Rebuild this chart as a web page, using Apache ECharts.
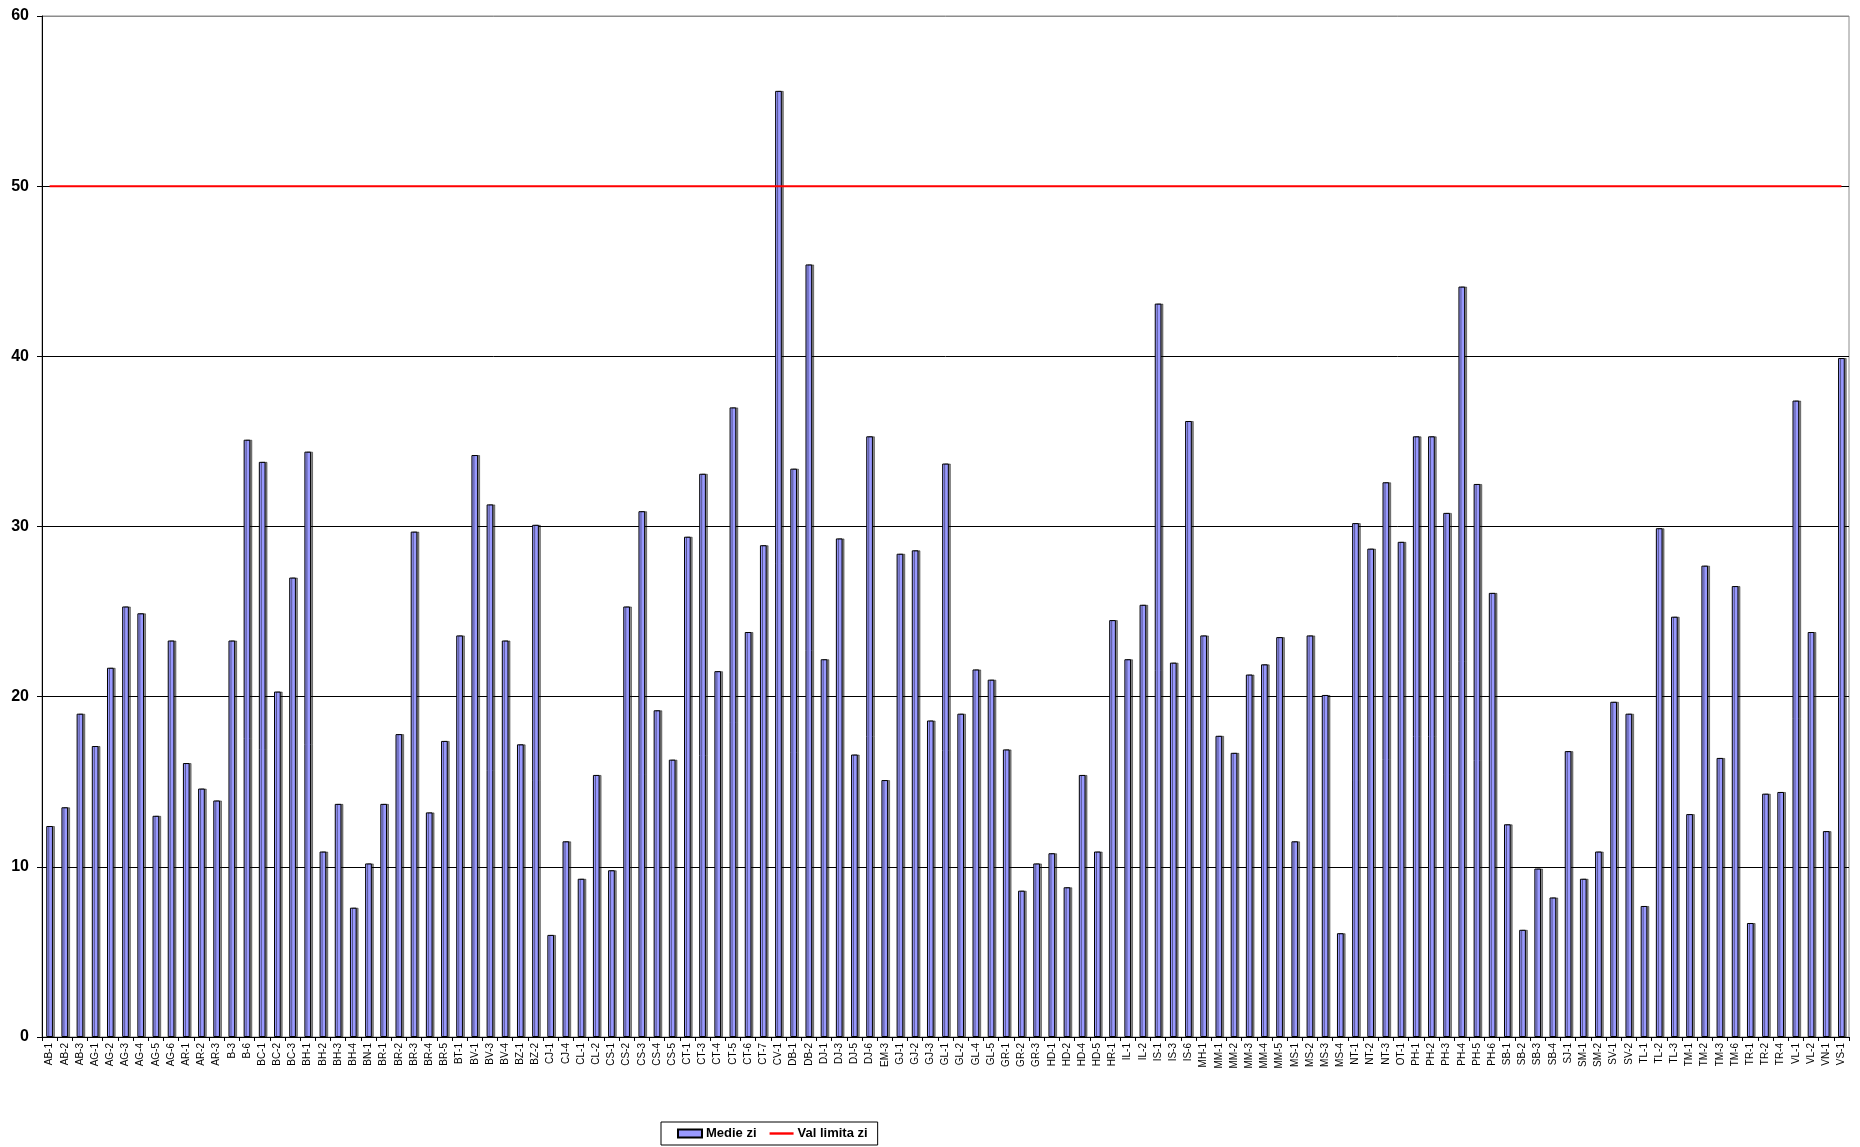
<!DOCTYPE html>
<html>
<head>
<meta charset="utf-8">
<script src="https://cdn.jsdelivr.net/npm/echarts@6/dist/echarts.min.js"></script>
<style>
  html, body { margin: 0; padding: 0; background: #fff; }
  #chart { width: 1860px; height: 1147px; }
</style>
</head>
<body>
<div id="chart"></div>
<script>
var stations = ['AB-1', 'AB-2', 'AB-3', 'AG-1', 'AG-2', 'AG-3', 'AG-4', 'AG-5', 'AG-6', 'AR-1', 'AR-2', 'AR-3',
  'B-3', 'B-6', 'BC-1', 'BC-2', 'BC-3', 'BH-1', 'BH-2', 'BH-3', 'BH-4', 'BN-1', 'BR-1', 'BR-2', 'BR-3', 'BR-4', 'BR-5',
  'BT-1', 'BV-1', 'BV-3', 'BV-4', 'BZ-1', 'BZ-2', 'CJ-1', 'CJ-4', 'CL-1', 'CL-2', 'CS-1', 'CS-2', 'CS-3', 'CS-4', 'CS-5',
  'CT-1', 'CT-3', 'CT-4', 'CT-5', 'CT-6', 'CT-7', 'CV-1', 'DB-1', 'DB-2', 'DJ-1', 'DJ-3', 'DJ-5', 'DJ-6', 'EM-3',
  'GJ-1', 'GJ-2', 'GJ-3', 'GL-1', 'GL-2', 'GL-4', 'GL-5', 'GR-1', 'GR-2', 'GR-3', 'HD-1', 'HD-2', 'HD-4', 'HD-5',
  'HR-1', 'IL-1', 'IL-2', 'IS-1', 'IS-3', 'IS-6', 'MH-1', 'MM-1', 'MM-2', 'MM-3', 'MM-4', 'MM-5', 'MS-1', 'MS-2',
  'MS-3', 'MS-4', 'NT-1', 'NT-2', 'NT-3', 'OT-1', 'PH-1', 'PH-2', 'PH-3', 'PH-4', 'PH-5', 'PH-6', 'SB-1', 'SB-2',
  'SB-3', 'SB-4', 'SJ-1', 'SM-1', 'SM-2', 'SV-1', 'SV-2', 'TL-1', 'TL-2', 'TL-3', 'TM-1', 'TM-2', 'TM-3', 'TM-6',
  'TR-1', 'TR-2', 'TR-4', 'VL-1', 'VL-2', 'VN-1', 'VS-1'];

// daily mean values
var medieZi = [12.4, 13.5, 19.0, 17.1, 21.7, 25.3, 24.9, 13.0, 23.3, 16.1, 14.6, 13.9,
  23.3, 35.1, 33.8, 20.3, 27.0, 34.4, 10.9, 13.7, 7.6, 10.2, 13.7, 17.8, 29.7, 13.2, 17.4,
  23.6, 34.2, 31.3, 23.3, 17.2, 30.1, 6.0, 11.5, 9.3, 15.4, 9.8, 25.3, 30.9, 19.2, 16.3,
  29.4, 33.1, 21.5, 37.0, 23.8, 28.9, 55.6, 33.4, 45.4, 22.2, 29.3, 16.6, 35.3, 15.1,
  28.4, 28.6, 18.6, 33.7, 19.0, 21.6, 21.0, 16.9, 8.6, 10.2, 10.8, 8.8, 15.4, 10.9,
  24.5, 22.2, 25.4, 43.1, 22.0, 36.2, 23.6, 17.7, 16.7, 21.3, 21.9, 23.5, 11.5, 23.6,
  20.1, 6.1, 30.2, 28.7, 32.6, 29.1, 35.3, 35.3, 30.8, 44.1, 32.5, 26.1, 12.5, 6.3,
  9.9, 8.2, 16.8, 9.3, 10.9, 19.7, 19.0, 7.7, 29.9, 24.7, 13.1, 27.7, 16.4, 26.5,
  6.7, 14.3, 14.4, 37.4, 23.8, 12.1, 39.9];

var limitValue = 50;
var valLimita = stations.map(function () { return limitValue; });

var chart = echarts.init(document.getElementById('chart'));

var option = {
  animation: false,
  textStyle: { fontFamily: 'Liberation Sans, Arial, sans-serif' },
  grid: {
    left: 42, right: 11, top: 16, bottom: 110,
    show: true, borderColor: '#8c8c8c', borderWidth: 1
  },
  legend: {
    left: 661,
    top: 1122,
    orient: 'horizontal',
    borderColor: '#000',
    borderWidth: 1,
    borderRadius: 0,
    padding: [5, 10, 5, 16],
    itemGap: 13,
    itemWidth: 24,
    itemHeight: 8,
    textStyle: { fontSize: 13, fontWeight: 'bold', color: '#000', padding: [0, 0, 0, -1] },
    data: [
      { name: 'Medie zi', icon: 'rect' },
      { name: 'Val limita zi', icon: 'path://M0,0 L10,0 L10,1 L0,1 Z' }
    ]
  },
  xAxis: {
    type: 'category',
    data: stations,
    boundaryGap: true,
    axisLine: { lineStyle: { color: '#000', width: 1 } },
    axisTick: { show: true, length: 4, lineStyle: { color: '#000' } },
    axisLabel: { rotate: 90, interval: 0, fontSize: 10, color: '#000', margin: 6 }
  },
  yAxis: {
    type: 'value',
    min: 0,
    max: 60,
    interval: 10,
    axisLine: { show: true, lineStyle: { color: '#000', width: 1 } },
    axisTick: { show: true, length: 5, lineStyle: { color: '#000' } },
    axisLabel: { fontSize: 16, fontWeight: 'bold', color: '#000', margin: 13 },
    splitLine: { lineStyle: { color: ['#000', '#000', '#000', '#000', '#000', '#000', '#8c8c8c'], width: 1 } }
  },
  series: [
    {
      name: 'Medie zi',
      type: 'bar',
      data: medieZi,
      barWidth: '44%',
      itemStyle: {
        color: '#9999ff', borderColor: '#000', borderWidth: 1,
        shadowColor: 'rgba(0,0,0,0.45)', shadowOffsetX: 2, shadowOffsetY: 0, shadowBlur: 0
      }
    },
    {
      name: 'Val limita zi',
      type: 'line',
      data: valLimita,
      symbol: 'none',
      itemStyle: { color: '#ff0000' },
      lineStyle: { color: '#ff0000', width: 2 },
      z: 5
    }
  ]
};

chart.setOption(option);
</script>
</body>
</html>
